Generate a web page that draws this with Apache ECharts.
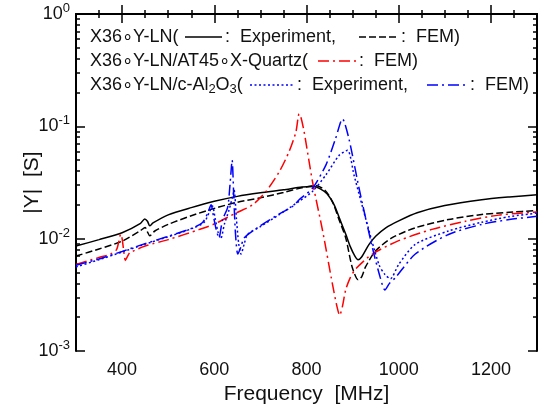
<!DOCTYPE html>
<html>
<head>
<meta charset="utf-8">
<script src="https://cdn.jsdelivr.net/npm/echarts@6/dist/echarts.min.js"></script>
<style>
html,body{margin:0;padding:0;background:#fff;}
#chart{width:538px;height:410px;}
</style>
</head>
<body>
<div id="chart"></div>
<script>
// ---- Data (frequency in MHz, |Y| in S) ----
const lnExpFreq = [300,350,400,440,449,455,460,467,500,550,600,650,700,750,790,815,830,845,860,872,885,895,905,912,920,935,950,972,1000,1040,1100,1180,1240,1300];
const lnExpY    = [0.0086,0.0098,0.0113,0.0137,0.0150,0.0143,0.0130,0.0138,0.0163,0.0189,0.0215,0.0238,0.0256,0.0272,0.0288,0.0292,0.0278,0.0250,0.0200,0.0150,0.0110,0.0085,0.0070,0.0065,0.0069,0.0088,0.0105,0.0125,0.0144,0.0170,0.0197,0.0222,0.0235,0.0246];

const lnFemFreq = [300,350,400,440,450,455,460,471,500,550,600,650,700,750,790,820,840,856,870,885,899,912,920,928,950,986,1036,1108,1180,1240,1300];
const lnFemY    = [0.0070,0.0081,0.0095,0.0118,0.0126,0.0115,0.0106,0.0117,0.0134,0.0160,0.0186,0.0211,0.0231,0.0258,0.0284,0.0297,0.0270,0.0215,0.0150,0.0102,0.0056,0.0043,0.0046,0.0056,0.0078,0.0102,0.0125,0.0148,0.0164,0.0172,0.0178];

const qzFemFreq = [300,350,375,388,393,397,400,404,407,412,417,450,500,568,600,647,683,712,741,762,777,784,788,795,813,835,856,866,872,878,885,895,907,943,1000,1072,1145,1217,1300];
const qzFemY    = [0.0059,0.0068,0.0073,0.0080,0.0095,0.0110,0.0100,0.0075,0.0064,0.0070,0.0075,0.0086,0.0098,0.0121,0.0135,0.0169,0.0200,0.0263,0.0395,0.0593,0.0889,0.129,0.120,0.0889,0.0322,0.0117,0.0040,0.0025,0.00208,0.0025,0.0035,0.0045,0.0054,0.0073,0.0096,0.0121,0.0143,0.0162,0.0173];

const alFemFreq = [300,350,400,445,500,554,575,586,593,598,604,610,618,629,634,638.7,642,646,651,658,665,698,740,770,784,813,842,863,878,892,914,943,960,970,980,993,1036,1108,1180,1240,1300];
const alFemY    = [0.0058,0.0066,0.0077,0.0089,0.0105,0.0125,0.0140,0.0170,0.0200,0.0160,0.0121,0.0102,0.0148,0.0190,0.030,0.050,0.025,0.011,0.0073,0.0085,0.0102,0.0129,0.0165,0.0194,0.0222,0.0281,0.0452,0.0776,0.1164,0.0776,0.0281,0.0083,0.0045,0.0035,0.0040,0.0045,0.0073,0.0109,0.0134,0.0148,0.0158];

const alExpFreq = [300,350,400,445,500,554,578,590,596,602,608,614,622,632,640,643,648,653,658,665,672,700,740,784,813,842,871,889,903,928,957,970,982,1000,1036,1108,1180,1240,1300];
const alExpY    = [0.0056,0.0065,0.0076,0.0088,0.0104,0.0124,0.0140,0.0175,0.0195,0.0150,0.0115,0.0100,0.0135,0.0180,0.0240,0.0270,0.0150,0.0090,0.0073,0.0090,0.0109,0.0128,0.0163,0.0215,0.0263,0.0369,0.0553,0.0612,0.0369,0.0153,0.0059,0.0048,0.0044,0.0059,0.0089,0.0117,0.0140,0.0157,0.0169];

const xLabelTicks = [400,600,800,1000,1200];
const xMinorTicks = [350,450,500,550,650,700,750,850,900,950,1050,1100,1150,1250];
const yMinorTicks = [];
for (let d = -3; d < 0; d++) { for (let k = 2; k <= 9; k++) yMinorTicks.push(Math.log10(k) + d); }

const FONT = '"Liberation Sans", Arial, Helvetica, sans-serif';
const zip = (a, b) => a.map((v, i) => [v, b[i]]);

const chart = echarts.init(document.getElementById('chart'));

const axisLine = { show: true, lineStyle: { color: '#000', width: 2 } };
const majTick = { show: true, inside: true, length: 9, lineStyle: { color: '#000', width: 1.5 } };
const minTick = { show: true, inside: true, length: 4, lineStyle: { color: '#000', width: 1.5 } };

function xAx(pos, labels) {
  return [
    { type: 'value', position: pos, min: 300, max: 1300, interval: 100,
      axisLine: axisLine, splitLine: { show: false },
      axisTick: Object.assign({}, majTick, { customValues: xLabelTicks }),
      axisLabel: labels ? { show: true, customValues: xLabelTicks, formatter: v => String(v), color: '#111', fontFamily: FONT, fontSize: 18, margin: 10 } : { show: false },
      name: labels ? 'Frequency  [MHz]' : '', nameLocation: 'middle', nameGap: 33, nameMoveOverlap: false,
      nameTextStyle: { color: '#111', fontFamily: FONT, fontSize: 21 } },
    { type: 'value', position: pos, min: 300, max: 1300, interval: 100,
      axisLine: { show: false }, splitLine: { show: false },
      axisTick: Object.assign({}, minTick, { customValues: xMinorTicks }),
      axisLabel: { show: false } }
  ];
}

function yAx(pos, labels) {
  return [
    { type: 'log', logBase: 10, position: pos, min: 0.001, max: 1,
      axisLine: axisLine, splitLine: { show: false }, minorTick: { show: false },
      axisTick: majTick,
      axisLabel: labels ? {
        show: true, margin: 6, fontFamily: FONT, color: '#111',
        formatter: v => '{b|10}{s|' + Math.round(Math.log10(v)) + '}',
        rich: {
          b: { fontSize: 18, fontFamily: FONT, color: '#111', lineHeight: 24 },
          s: { fontSize: 13, fontFamily: FONT, color: '#111', lineHeight: 10, verticalAlign: 'top' }
        }
      } : { show: false },
      name: labels ? '|Y|  [S]' : '', nameLocation: 'middle', nameGap: 33, nameRotate: 90, nameMoveOverlap: false,
      nameTextStyle: { color: '#111', fontFamily: FONT, fontSize: 21 } },
    { type: 'value', position: pos, min: -3, max: 0, interval: 1,
      axisLine: { show: false }, splitLine: { show: false },
      axisTick: Object.assign({}, minTick, { customValues: yMinorTicks }),
      axisLabel: { show: false } }
  ];
}

const xAxes = xAx('bottom', true).concat(xAx('top', false));
const yAxes = yAx('left', true).concat(yAx('right', false));

function line(data, color, dash) {
  return { type: 'line', xAxisIndex: 0, yAxisIndex: 0, data: data, showSymbol: false, symbol: 'none',
    smooth: 0.25, lineStyle: { color: color, width: 1.5, type: dash }, z: 3 };
}

// legend graphics
const TS = { fontFamily: FONT, fontSize: 18, fill: '#111', verticalAlign: 'middle' };
function txt(x, y, t, extra) {
  return { type: 'text', x: x, y: y, style: Object.assign({ text: t }, TS, extra || {}), z: 10 };
}
function seg(x1, x2, y, color, dash) {
  return { type: 'line', shape: { x1: x1, y1: y, x2: x2, y2: y },
    style: { stroke: color, lineWidth: 1.5, lineDash: dash }, z: 10 };
}
const L1 = 37, L2 = 61, L3 = 85;
const graphics = [
  txt(90, L1, 'X36\u2218Y-LN('),
  seg(185, 222, L1, '#000', null),
  txt(225, L1, ':  Experiment,'),
  seg(359, 398, L1, '#000', [7, 3]),
  txt(401, L1, ':  FEM)'),
  txt(90, L2, 'X36\u2218Y-LN/AT45\u2218X-Quartz('),
  seg(318, 357, L2, '#ff0000', [11, 4, 2, 4]),
  txt(359, L2, ':  FEM)'),
  { type: 'text', x: 90, y: L3, z: 10,
    style: { text: 'X36\u2218Y-LN/c-Al{s|2}O{s|3}(', fontFamily: FONT, fontSize: 18, fill: '#111', verticalAlign: 'middle', lineHeight: 22,
      rich: { s: { fontSize: 13, fontFamily: FONT, fill: '#111', lineHeight: 10, verticalAlign: 'bottom' } } } },
  seg(250, 295, L3, '#0000ff', [2, 2.5]),
  txt(297, L3, ':  Experiment,'),
  seg(427, 468, L3, '#0000ff', [11, 4, 2, 4]),
  txt(470, L3, ':  FEM)')
];

chart.setOption({
  animation: false,
  backgroundColor: '#fff',
  grid: { left: 76, right: 1, top: 14, bottom: 55 },
  xAxis: xAxes,
  yAxis: yAxes,
  series: [
    line(zip(lnExpFreq, lnExpY), '#000000', 'solid'),
    line(zip(lnFemFreq, lnFemY), '#000000', [7, 3]),
    line(zip(qzFemFreq, qzFemY), '#ff0000', [11, 4, 2, 4]),
    line(zip(alExpFreq, alExpY), '#0000ff', [2, 2.5]),
    line(zip(alFemFreq, alFemY), '#0000ff', [11, 4, 2, 4])
  ],
  graphic: graphics
});
</script>
</body>
</html>
